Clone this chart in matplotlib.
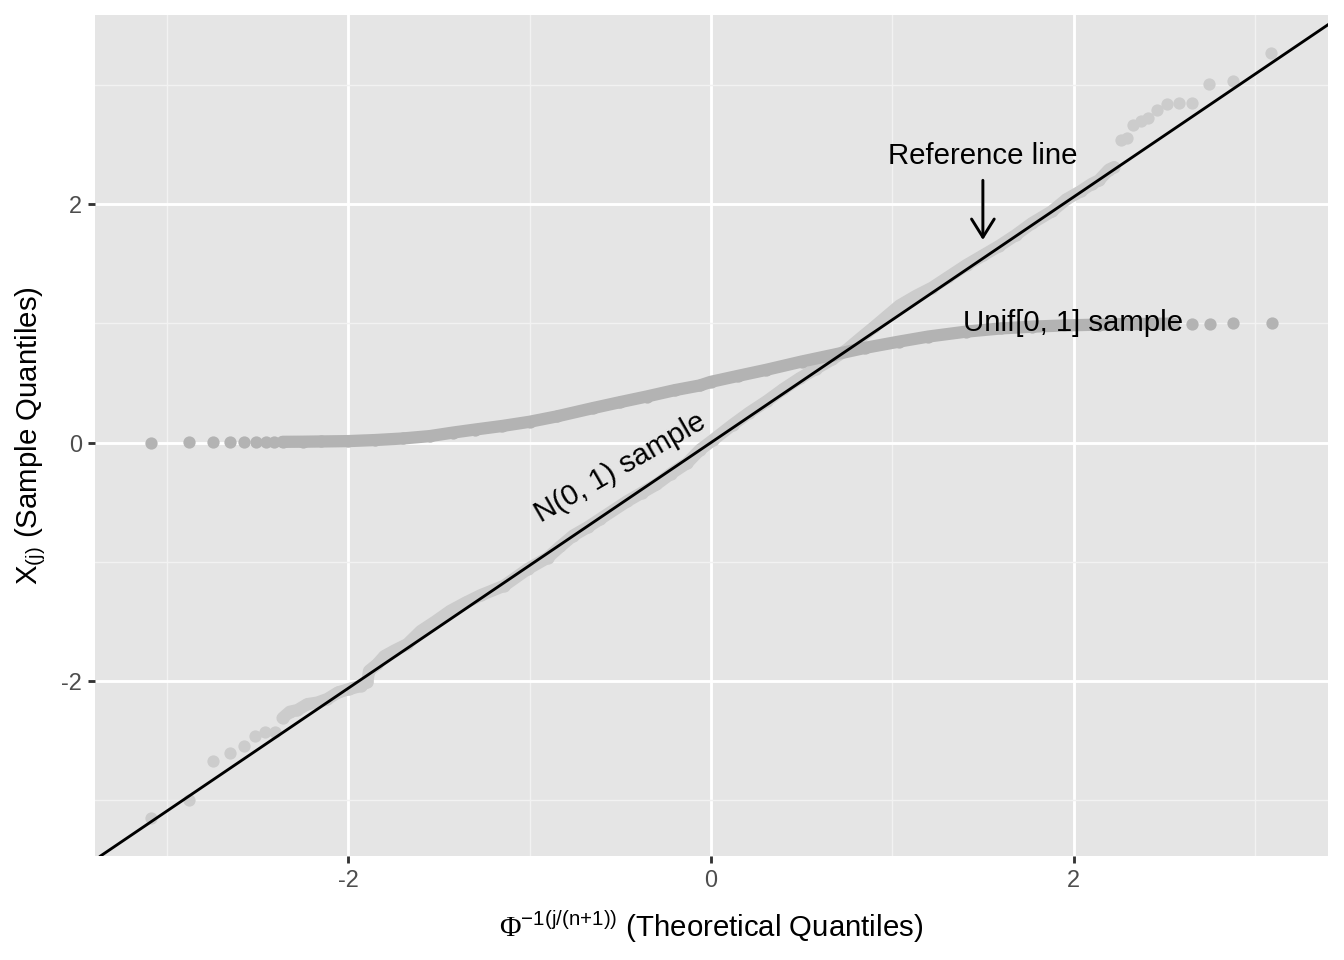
import matplotlib
matplotlib.use('Agg')
import matplotlib.pyplot as plt

plt.rcParams['font.family'] = ['Liberation Sans', 'DejaVu Sans']
plt.rcParams['mathtext.fontset'] = 'custom'
plt.rcParams['mathtext.rm'] = 'Liberation Sans'
plt.rcParams['mathtext.it'] = 'Liberation Sans'
plt.rcParams['mathtext.sf'] = 'Liberation Serif'
plt.rcParams['axes.unicode_minus'] = False

# N(0,1) sample: isolated lower tail dots, dense band, upper tail dots
norm_lo_x = [-3.087, -2.876, -2.744, -2.650, -2.577, -2.513, -2.458, -2.404]
norm_lo_y = [-3.146, -3.000, -2.669, -2.600, -2.541, -2.460, -2.424, -2.424]
norm_core_x = [-2.362, -2.322, -2.280, -2.225, -2.170, -2.115, -2.056, -1.996, -1.930, -1.894,
               -1.885, -1.840, -1.800, -1.748, -1.674, -1.600, -1.520, -1.436, -1.350, -1.270,
               -1.140, -1.010, -0.900, -0.830, -0.760, -0.680, -0.610, -0.460, -0.380, -0.300,
               -0.220, -0.130, -0.060, 0.010, 0.120, 0.210, 0.310, 0.400, 0.490, 0.580,
               0.670, 0.750, 0.820, 0.900, 0.970, 1.040, 1.130, 1.220, 1.310, 1.410,
               1.500, 1.590, 1.680, 1.770, 1.880, 1.960, 2.040, 2.100, 2.140, 2.195, 2.223]
norm_core_y = [-2.310, -2.257, -2.243, -2.193, -2.180, -2.150, -2.095, -2.067, -2.040, -2.006,
               -1.914, -1.858, -1.790, -1.746, -1.690, -1.580, -1.500, -1.410, -1.340, -1.280,
               -1.200, -1.060, -0.965, -0.870, -0.780, -0.710, -0.640, -0.490, -0.420, -0.350,
               -0.260, -0.170, -0.060, 0.020, 0.150, 0.250, 0.350, 0.450, 0.540, 0.620,
               0.700, 0.780, 0.870, 0.970, 1.060, 1.150, 1.230, 1.300, 1.390, 1.490,
               1.570, 1.650, 1.740, 1.840, 1.940, 2.040, 2.110, 2.170, 2.200, 2.290, 2.310]
norm_hi_x = [2.260, 2.293, 2.327, 2.370, 2.410, 2.458, 2.513, 2.580, 2.654, 2.749, 2.879, 3.090]
norm_hi_y = [2.540, 2.558, 2.667, 2.697, 2.722, 2.792, 2.837, 2.851, 2.851, 3.010, 3.032, 3.266]

# Unif[0,1] sample
unif_lo_x = [-3.087, -2.876, -2.747, -2.650, -2.573, -2.509, -2.454, -2.408]
unif_lo_y = [0.001, 0.002, 0.003, 0.004, 0.005, 0.005, 0.006, 0.006]
unif_core_x = [-2.362, -2.250, -2.150, -2.000, -1.850, -1.700, -1.550, -1.420, -1.300, -1.150,
               -1.000, -0.850, -0.650, -0.500, -0.354, -0.200, -0.060, 0.000, 0.150, 0.306,
               0.500, 0.673, 0.850, 1.040, 1.200, 1.407, 1.600, 1.773, 1.950, 2.140,
               2.300, 2.450, 2.550]
unif_core_y = [0.007, 0.008, 0.010, 0.013, 0.022, 0.035, 0.055, 0.085, 0.110, 0.140,
               0.175, 0.220, 0.290, 0.340, 0.387, 0.440, 0.480, 0.510, 0.560, 0.611,
               0.680, 0.736, 0.795, 0.848, 0.890, 0.931, 0.958, 0.973, 0.983, 0.990,
               0.994, 0.997, 0.998]
unif_hi_x = [2.652, 2.755, 2.878, 3.094]
unif_hi_y = [0.999, 0.999, 1.000, 1.000]

ref_intercept = 0.0
ref_slope = 1.03

norm_col = '#CCCCCC'
unif_col = '#B3B3B3'
dot_d = 4.6  # point diameter in pt

fig = plt.figure(figsize=(7, 5), dpi=192)
ax = fig.add_axes([95/1344, 1 - 856/960, (1328 - 95)/1344, (856 - 15)/960])
ax.set_facecolor('#E5E5E5')
for s in ax.spines.values():
    s.set_visible(False)

# normal sample
ax.plot(norm_core_x, norm_core_y, color=norm_col, lw=dot_d,
        solid_capstyle='round', solid_joinstyle='round', zorder=2)
for xs, ys in [(norm_lo_x, norm_lo_y), (norm_core_x, norm_core_y), (norm_hi_x, norm_hi_y)]:
    ax.scatter(xs, ys, s=dot_d**2, color=norm_col, linewidths=0, zorder=2)

# uniform sample
ax.plot(unif_core_x, unif_core_y, color=unif_col, lw=dot_d,
        solid_capstyle='round', solid_joinstyle='round', zorder=3)
for xs, ys in [(unif_lo_x, unif_lo_y), (unif_core_x, unif_core_y), (unif_hi_x, unif_hi_y)]:
    ax.scatter(xs, ys, s=dot_d**2, color=unif_col, linewidths=0, zorder=3)

# limits: ggplot-style 5% expansion of the data range
all_x = norm_lo_x + norm_core_x + norm_hi_x + unif_lo_x + unif_core_x + unif_hi_x
all_y = norm_lo_y + norm_core_y + norm_hi_y + unif_lo_y + unif_core_y + unif_hi_y
xr = max(all_x) - min(all_x)
yr = max(all_y) - min(all_y)
ax.set_xlim(min(all_x) - 0.05*xr, max(all_x) + 0.05*xr)
ax.set_ylim(min(all_y) - 0.05*yr, max(all_y) + 0.05*yr)

ax.axline((0, ref_intercept), slope=ref_slope, color='black', lw=1.07, zorder=4)

ax.set_xticks([-2, 0, 2])
ax.set_yticks([-2, 0, 2])
ax.set_xticks([-3, -1, 1, 3], minor=True)
ax.set_yticks([-3, -1, 1, 3], minor=True)
ax.set_xticklabels(['-2', '0', '2'])
ax.set_yticklabels(['-2', '0', '2'])
ax.grid(which='major', color='white', lw=1.07, zorder=0)
ax.grid(which='minor', color='#F2F2F2', lw=0.53, zorder=0)
ax.set_axisbelow(True)
ax.tick_params(which='major', length=2.75, width=1.07, color='#333333',
               labelsize=8.8, labelcolor='#4D4D4D', pad=2.2)
ax.tick_params(which='minor', length=0)

ax.set_xlabel(r'$\mathsf{\Phi}^{-1(j/(n{+}1))}$ (Theoretical Quantiles)', fontsize=11, labelpad=6)
ax.set_ylabel(r'$\mathrm{X}_{(j)}$ (Sample Quantiles)', fontsize=11, labelpad=5)

# annotations
ax.text(1.5, 2.4, 'Reference line', fontsize=11, ha='center', va='center', zorder=5)
ax.annotate('', xy=(1.5, 1.7), xytext=(1.5, 2.2),
            arrowprops=dict(arrowstyle='->,head_length=0.4,head_width=0.25', lw=1.1,
                            color='black', shrinkA=0, shrinkB=0, mutation_scale=17), zorder=5)
ax.text(2.0, 1.0, 'Unif[0, 1] sample', fontsize=11, ha='center', va='center', zorder=5)
ax.text(-0.5, -0.21, 'N(0, 1) sample', fontsize=11, ha='center', va='center',
        rotation=30, rotation_mode='anchor', zorder=5)

fig.savefig('out.png', dpi=192)
